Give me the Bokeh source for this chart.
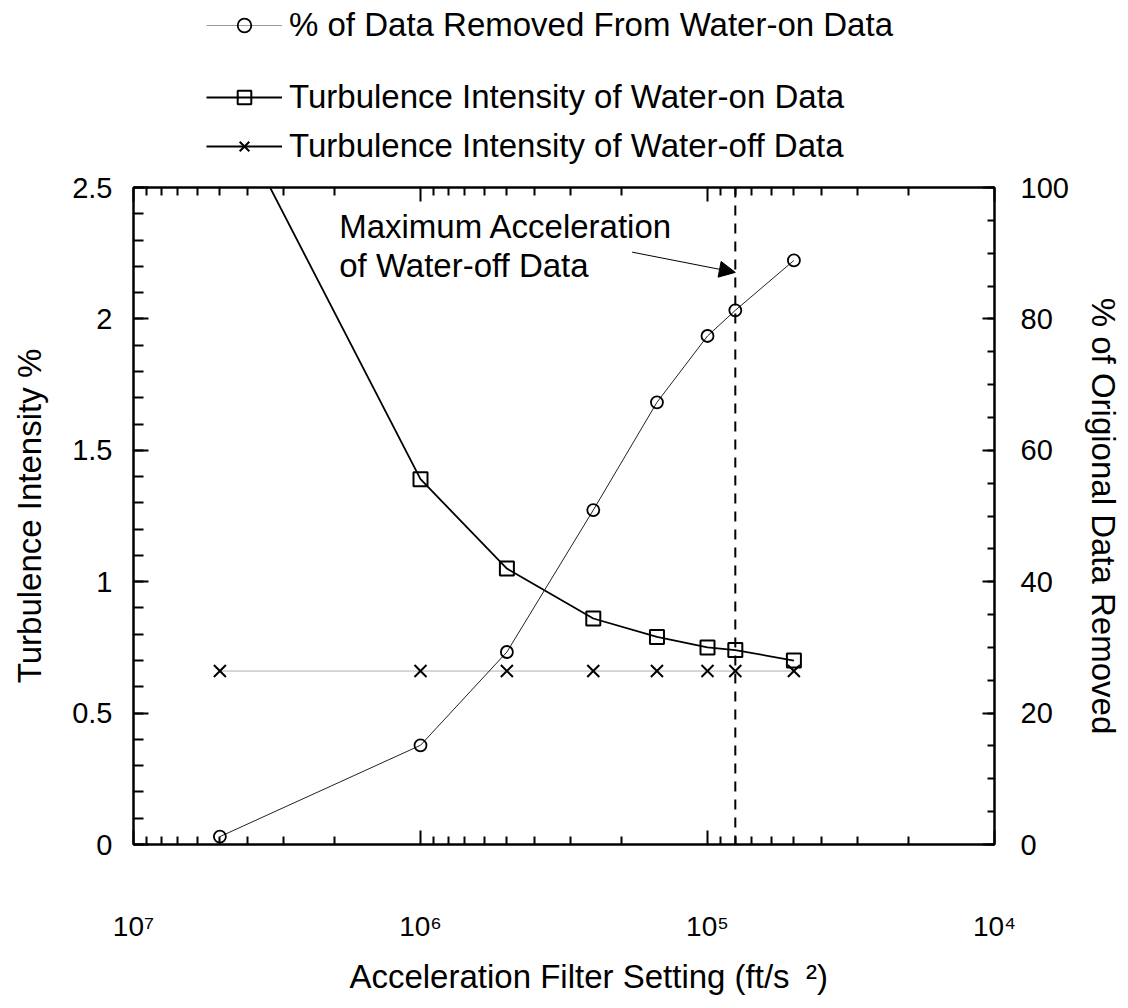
from bokeh.plotting import figure
from bokeh.layouts import column
from bokeh.models import (Range1d, LinearAxis, LogAxis, FixedTicker, SingleIntervalTicker,
                          CustomJSTickFormatter, Legend, LegendItem, Span, Label, Arrow,
                          NormalHead, ColumnDataSource)
from bokeh.embed import file_html
from bokeh.resources import INLINE

# ---------------- data ----------------
filter_setting = [5e6, 1e6, 5e5, 2.5e5, 1.5e5, 1e5, 8e4, 5e4]          # ft/s^2
pct_removed = [1.2, 15.1, 29.3, 50.9, 67.3, 77.4, 81.3, 88.9]           # % (right axis)
ti_water_on = [2.87, 1.39, 1.05, 0.86, 0.79, 0.75, 0.74, 0.70]          # % (left axis)
ti_water_off = [0.66, 0.66, 0.66, 0.66, 0.66, 0.66, 0.66, 0.66]         # % (left axis)
max_accel_water_off = 8e4
x_major_ticks = [1e7, 1e6, 1e5, 1e4]
x_minor_ticks = [m * 10 ** e for e in range(4, 7) for m in range(2, 10)]

legend_labels = ["% of Data Removed From Water-on Data",
                 "Turbulence Intensity of Water-on Data",
                 "Turbulence Intensity of Water-off Data"]
annotation_lines = ["Maximum Acceleration", "of Water-off Data"]
x_title = "\u2002\u2002\u2002Acceleration Filter Setting (ft/s\u2002\u00b2)"

FONT = "Liberation Sans"
TICK_FS = "29px"
TXT_FS = "33px"

LEG_H = 167

# ---------------- main plot ----------------
p = figure(width=1128, height=1008 - LEG_H, x_axis_type="log",
           x_range=Range1d(1e7, 1e4), y_range=Range1d(0, 2.5),
           output_backend="svg", toolbar_location=None,
           min_border_left=133, min_border_right=134,
           min_border_top=20, min_border_bottom=164)
p.extra_y_ranges = {"pct": Range1d(0, 100)}
p.grid.visible = False
p.outline_line_color = "black"
p.outline_line_width = 2
p.background_fill_color = "white"
p.border_fill_color = "white"


def style(ax, major_in=14, minor_in=8):
    ax.axis_line_color = "black"
    ax.axis_line_width = 2
    ax.major_tick_in = major_in
    ax.major_tick_out = 0
    ax.minor_tick_in = minor_in
    ax.minor_tick_out = 0
    ax.major_tick_line_width = 2
    ax.minor_tick_line_width = 2
    ax.major_tick_line_color = "black"
    ax.minor_tick_line_color = "black"
    ax.major_label_text_font = FONT
    ax.major_label_text_font_size = TICK_FS
    ax.major_label_text_color = "black"
    ax.axis_label_text_font = FONT
    ax.axis_label_text_font_size = TXT_FS
    ax.axis_label_text_font_style = "normal"
    ax.axis_label_text_color = "black"


sup_js = """
const sup = {'0':'\u2070','1':'\u00b9','2':'\u00b2','3':'\u00b3','4':'\u2074',
             '5':'\u2075','6':'\u2076','7':'\u2077','8':'\u2078','9':'\u2079'};
const e = Math.round(Math.log10(tick));
return '10' + String(e).split('').map(c => sup[c]).join('');
"""

# bottom axis
xb = p.xaxis[0]
xb.ticker = FixedTicker(ticks=x_major_ticks, minor_ticks=x_minor_ticks)
xb.formatter = CustomJSTickFormatter(code=sup_js)
style(xb, 14, 8)
xb.major_label_text_font_size = "28px"
xb.major_label_standoff = 66
xb.axis_label = x_title
xb.axis_label_standoff = 13

# top axis (ticks only)
xt = LogAxis(ticker=FixedTicker(ticks=x_major_ticks, minor_ticks=x_minor_ticks),
             formatter=CustomJSTickFormatter(code="return ''"))
style(xt, 14, 8)
xt.major_label_text_font_size = "0px"
xt.major_label_standoff = 0
p.add_layout(xt, "above")

# left axis
yl = p.yaxis[0]
yl.ticker = SingleIntervalTicker(interval=0.5, num_minor_ticks=5)
yl.formatter = CustomJSTickFormatter(code="return String(Math.round(tick*10)/10);")
style(yl, 15, 10)
yl.major_label_standoff = 21
yl.axis_label = "Turbulence Intensity %"
yl.axis_label_standoff = 21

# right axis
yr = LinearAxis(y_range_name="pct",
                ticker=SingleIntervalTicker(interval=20, num_minor_ticks=4))
style(yr, 12, 7)
yr.major_label_standoff = 26
yr.axis_label = "% of Origional Data Removed"
yr.axis_label_standoff = 13
p.add_layout(yr, "right")

# ---------------- data glyphs ----------------
src = ColumnDataSource(dict(x=filter_setting, pct=pct_removed,
                            on=ti_water_on, off=ti_water_off))

p.line("x", "off", source=src, line_color="#b0b0b0", line_width=1)
p.scatter("x", "off", source=src, marker="x", size=17, line_color="black",
          line_width=2)

p.line("x", "on", source=src, line_color="black", line_width=1.8)
p.scatter("x", "on", source=src, marker="square", size=14, fill_color=None,
          line_color="black", line_width=2)

p.line("x", "pct", source=src, y_range_name="pct", line_color="#222222", line_width=1)
p.scatter("x", "pct", source=src, y_range_name="pct", marker="circle", size=12,
          fill_color=None, line_color="black", line_width=1.8)

# max-acceleration marker line
p.add_layout(Span(location=max_accel_water_off, dimension="height", line_color="black",
                  line_width=2, line_dash="10 8"))

# annotation
p.add_layout(Label(x=1.92e6, y=2.352, text=annotation_lines[0], text_font=FONT,
                   text_font_size=TXT_FS, text_baseline="middle", text_color="black"))
p.add_layout(Label(x=1.92e6, y=2.204, text=annotation_lines[1], text_font=FONT,
                   text_font_size=TXT_FS, text_baseline="middle", text_color="black"))
p.add_layout(Arrow(end=NormalHead(size=16, fill_color="black", line_color="black"),
                   x_start=1.83e5, y_start=2.254, x_end=max_accel_water_off, y_end=2.177,
                   line_color="black", line_width=1))

# ---------------- legend strip above the plot ----------------
lf = figure(width=1128, height=LEG_H, x_range=Range1d(0, 1), y_range=Range1d(0, 1),
            x_axis_location=None, y_axis_location=None, toolbar_location=None,
            output_backend="svg", min_border=0, outline_line_color=None)
lf.grid.visible = False
lf.background_fill_color = "white"
lf.border_fill_color = "white"

# proxy glyphs for the legend only (their single point lies outside the visible range)
proxy = ColumnDataSource(dict(x=[5.0], y=[5.0]))
lg1_line = lf.line("x", "y", source=proxy, line_color="#999999", line_width=1)
lg1_mark = lf.scatter("x", "y", source=proxy, marker="circle", size=12, fill_color=None,
                      line_color="black", line_width=1.8)
lg2_line = lf.line("x", "y", source=proxy, line_color="black", line_width=2)
lg2_mark = lf.scatter("x", "y", source=proxy, marker="square", size=14, fill_color=None,
                      line_color="black", line_width=2)
lg3_line = lf.line("x", "y", source=proxy, line_color="black", line_width=2)
lg3_mark = lf.scatter("x", "y", source=proxy, marker="x", size=14, line_color="black",
                      line_width=2)


def make_legend(items, loc, spacing):
    return Legend(items=items, location=loc, orientation="vertical",
                  glyph_width=76, glyph_height=34, label_height=34, label_standoff=7,
                  spacing=spacing, padding=0, margin=0,
                  border_line_color=None, background_fill_alpha=0,
                  label_text_font=FONT, label_text_font_size=TXT_FS,
                  label_text_color="black")


# legend strip frame is aligned with the main frame (left edge at x=133)
leg1 = make_legend([LegendItem(label=legend_labels[0], renderers=[lg1_line, lg1_mark])],
                   (73, 123), 0)
leg2 = make_legend([LegendItem(label=legend_labels[1], renderers=[lg2_line, lg2_mark]),
                    LegendItem(label=legend_labels[2], renderers=[lg3_line, lg3_mark])],
                   (73, 2), 11)
lf.add_layout(leg1)
lf.add_layout(leg2)

layout = column(lf, p, spacing=0)
open("out.html", "w").write(file_html(layout, INLINE))
